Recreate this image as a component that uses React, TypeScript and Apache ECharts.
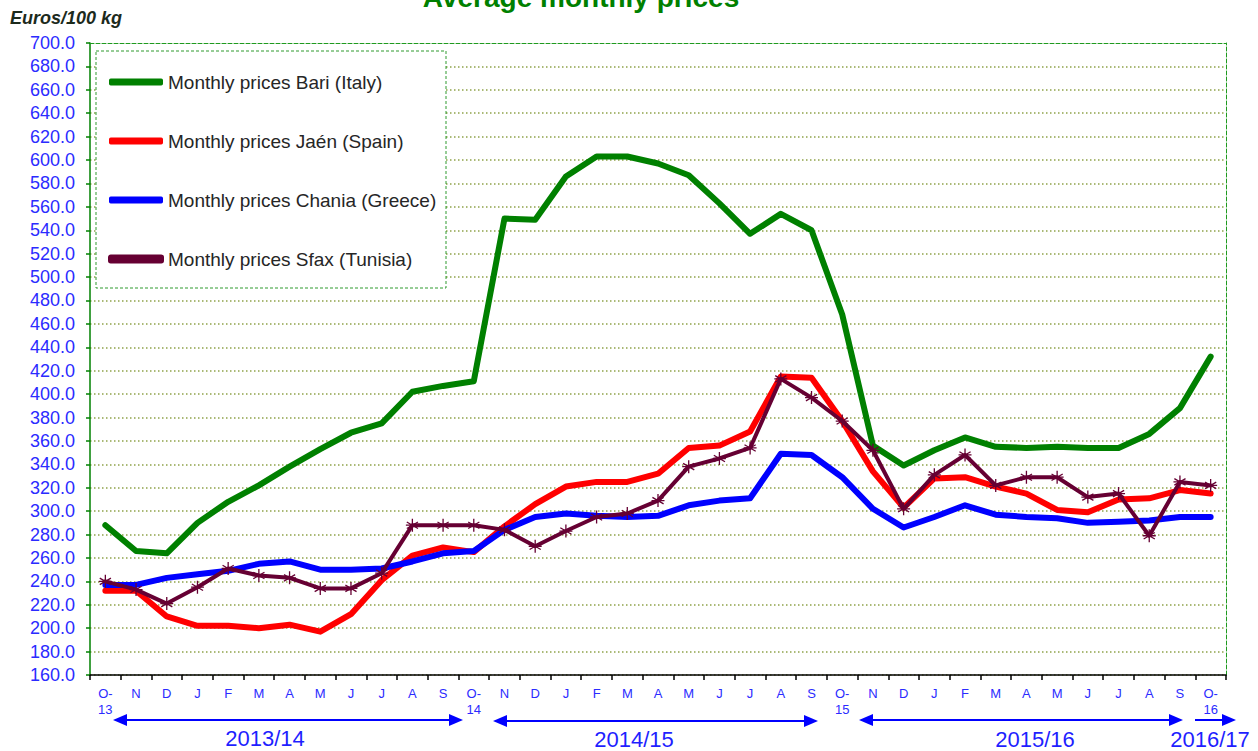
import React, { useEffect, useRef } from "react";
import * as echarts from "echarts";

const months = [
  "O-\n13", "N", "D", "J", "F", "M", "A", "M", "J", "J", "A", "S",
  "O-\n14", "N", "D", "J", "F", "M", "A", "M", "J", "J", "A", "S",
  "O-\n15", "N", "D", "J", "F", "M", "A", "M", "J", "J", "A", "S",
  "O-\n16",
];

const bari = [288, 266, 264, 290, 308, 322, 338, 353, 367, 375, 402, 407, 411, 550, 549, 586, 603, 603, 597, 587, 563, 537, 554, 540, 468, 356, 339, 352, 363, 355, 354, 355, 354, 354, 366, 388, 432];
const jaen = [232, 232, 210, 202, 202, 200, 203, 197, 212, 241, 262, 269, 265, 287, 306, 321, 325, 325, 332, 354, 356, 368, 415, 414, 377, 334, 303, 328, 329, 321, 315, 301, 299, 310, 311, 318, 315];
const chania = [237, 237, 243, 246, 249, 255, 257, 250, 250, 251, 257, 264, 266, 284, 295, 298, 296, 295, 296, 305, 309, 311, 349, 348, 329, 302, 286, 295, 305, 297, 295, 294, 290, 291, 292, 295, 295];
const sfax = [240, 233, 221, 235, 251, 245, 243, 234, 234, 247, 288, 288, 288, 284, 270, 283, 295, 298, 309, 338, 345, 354, 413, 397, 377, 352, 302, 331, 348, 322, 329, 329, 312, 315, 279, 325, 322];

const seriesNames = [
  "Monthly prices Bari (Italy)",
  "Monthly prices Jaén (Spain)",
  "Monthly prices Chania (Greece)",
  "Monthly prices Sfax (Tunisia)",
];

const seasons = ["2013/14", "2014/15", "2015/16", "2016/17"];

const FONT = "'Liberation Sans', Arial, sans-serif";
const BLUE = "#0000ff";
const LABEL_BLUE = "#2b2bff";
const STAR = "path://M5,0L5,10M0.7,2.5L9.3,7.5M0.7,7.5L9.3,2.5M0,5L10,5";

function arrow(x1: number, x2: number, y: number, left: boolean, right: boolean) {
  const els: any[] = [
    { type: "line", shape: { x1: left ? x1 + 10 : x1, y1: y, x2: right ? x2 - 10 : x2, y2: y }, style: { stroke: BLUE, lineWidth: 2 } },
  ];
  if (left) els.push({ type: "polygon", shape: { points: [[x1, y], [x1 + 14, y - 6], [x1 + 14, y + 6]] }, style: { fill: BLUE } });
  if (right) els.push({ type: "polygon", shape: { points: [[x2, y], [x2 - 14, y - 6], [x2 - 14, y + 6]] }, style: { fill: BLUE } });
  return els;
}

function seasonText(text: string, x: number, y: number) {
  return {
    type: "text",
    x, y,
    style: { text, font: `22px ${FONT}`, fill: "#1f1fff", align: "center", verticalAlign: "middle", textAlign: "center", textVerticalAlign: "middle" },
  };
}

export default function App() {
  const ref = useRef<HTMLDivElement>(null);
  useEffect(() => {
    const chart = echarts.init(ref.current!, null, { renderer: "svg" });
    const lineSeries = (name: string, data: number[], color: string, width: number, extra: any = {}) => ({
      name,
      type: "line",
      data,
      symbol: "none",
      color,
      lineStyle: { color, width, cap: "round", join: "round" },
      itemStyle: { color },
      z: 3,
      ...extra,
    });
    chart.setOption({
      animation: false,
      backgroundColor: "#ffffff",
      textStyle: { fontFamily: FONT },
      grid: { left: 90, right: 32, top: 43, bottom: 76 },
      xAxis: [
        {
          type: "category",
          data: months,
          boundaryGap: true,
          axisLine: { lineStyle: { color: "#000", width: 1.5 } },
          axisTick: { show: true, interval: 0, length: 5, lineStyle: { color: "#000", width: 1.5 } },
          axisLabel: { interval: 0, color: LABEL_BLUE, fontSize: 13, lineHeight: 16, margin: 10, fontFamily: FONT },
          splitLine: { show: false },
        },
        {
          type: "category",
          data: months,
          position: "top",
          boundaryGap: true,
          axisLine: { lineStyle: { color: "#1f9a1f", width: 1, type: [4, 2] } },
          axisTick: { show: false },
          axisLabel: { show: false },
          splitLine: { show: false },
        },
      ],
      yAxis: [
        {
          type: "value",
          min: 160,
          max: 700,
          interval: 20,
          axisLine: { show: true, lineStyle: { color: "#008000", width: 1.5 } },
          axisTick: { show: true, length: 4, lineStyle: { color: "#008000", width: 1.5 } },
          axisLabel: { color: LABEL_BLUE, fontSize: 18, margin: 15, fontFamily: FONT, formatter: (v: number) => v.toFixed(1) },
          splitLine: { show: true, showMaxLine: false, lineStyle: { color: "#8fa24a", type: [1.5, 2.5], width: 1.5 } },
        },
        {
          type: "value",
          min: 160,
          max: 700,
          interval: 20,
          position: "right",
          axisLine: { show: true, lineStyle: { color: "#1f9a1f", width: 1, type: [4, 2] } },
          axisTick: { show: false },
          axisLabel: { show: false },
          splitLine: { show: false },
        },
      ],
      legend: {
        orient: "vertical",
        left: 103,
        top: 67,
        itemWidth: 54,
        itemHeight: 7,
        itemGap: 39,
        z: 10,
        textStyle: { color: "#262626", fontSize: 19, lineHeight: 20, fontFamily: FONT },
        data: [
          { name: seriesNames[0], icon: "roundRect" },
          { name: seriesNames[1], icon: "roundRect" },
          { name: seriesNames[2], icon: "roundRect" },
          { name: seriesNames[3], icon: "roundRect" },
        ],
      },
      series: [
        lineSeries(seriesNames[0], bari, "#008000", 6),
        lineSeries(seriesNames[1], jaen, "#ff0000", 6),
        lineSeries(seriesNames[2], chania, "#0000ff", 6),
        lineSeries(seriesNames[3], sfax, "#660033", 4, {
          symbol: STAR,
          symbolSize: 13,
          itemStyle: { color: "#660033", borderColor: "#660033", borderWidth: 1.3 },
          z: 4,
        }),
      ],
      graphic: [
        {
          type: "rect",
          z: 3,
          shape: { x: 96, y: 51, width: 350, height: 237 },
          style: { fill: "#ffffff", stroke: "#2e9a2e", lineWidth: 1, lineDash: [3, 2] },
        },
        {
          type: "text",
          x: 581,
          y: -3,
          style: { text: "Average monthly prices", font: `bold 28px ${FONT}`, fill: "#008000", align: "center", verticalAlign: "middle", textAlign: "center", textVerticalAlign: "middle" },
        },
        {
          type: "text",
          x: 10,
          y: 18,
          style: { text: "Euros/100 kg", font: `italic bold 18px ${FONT}`, fill: "#1c2a1c", align: "left", verticalAlign: "middle", textAlign: "left", textVerticalAlign: "middle" },
        },
        ...arrow(113, 463, 720, true, true),
        ...arrow(493, 818, 721, true, true),
        ...arrow(859, 1183, 720, true, true),
        ...arrow(1195, 1236, 720, false, true),
        seasonText(seasons[0], 265, 738),
        seasonText(seasons[1], 634, 739),
        seasonText(seasons[2], 1035, 739),
        seasonText(seasons[3], 1210, 739),
      ],
    });
    return () => chart.dispose();
  }, []);
  return (
    <div
      ref={ref}
      style={{ position: "fixed", left: 0, top: 0, width: 1258, height: 751, background: "#fff" }}
    />
  );
}
